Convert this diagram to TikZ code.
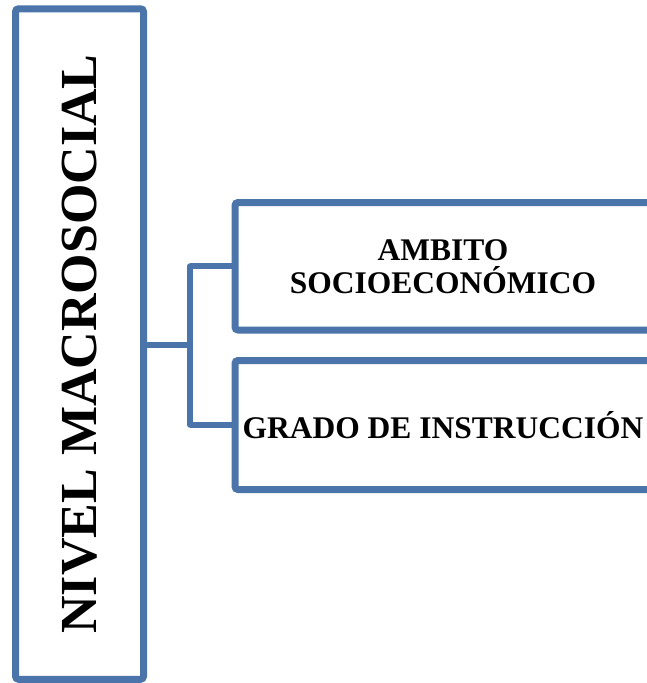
\documentclass[tikz,border=0pt]{standalone}
\usepackage{fontspec}
\setmainfont{Liberation Serif}
\usetikzlibrary{shadows}
\definecolor{boxblue}{HTML}{4A74AA}
\tikzset{
  bluebox/.style={draw=boxblue, line width=7pt, fill=white, rounded corners=3pt,
    drop shadow={opacity=0.35, fill=gray, shadow xshift=2pt, shadow yshift=-3pt}},
  link/.style={draw=boxblue, line width=5.5pt},
  boxtext/.style={font=\bfseries\fontsize{31.5}{33}\selectfont, align=center, inner sep=0pt}
}
\begin{document}
\begin{tikzpicture}[x=1pt,y=-1pt]
\useasboundingbox (0,0) rectangle (647,683);
\clip (0,0) rectangle (647,683);
%\draw[step=50,gray,very thin] (0,0) grid (647,683); %background grid
\node[bluebox, minimum width=128pt, minimum height=670.5pt] (nivel) at (79.5,344) {};
\node[rotate=90, inner sep=0pt, font=\bfseries\fontsize{52}{54}\selectfont] (nivellbl) at (nivel.center) {NIVEL MACROSOCIAL};
\node[bluebox, minimum width=416pt, minimum height=127.5pt] (ambito) at (443,266.25) {};
\node[bluebox, minimum width=416pt, minimum height=129pt] (grado) at (443,425) {};
\node[boxtext] (ambitolbl) at (ambito.center) {AMBITO\\SOCIOECONÓMICO};
\node[boxtext] (gradolbl) at (grado.center) {GRADO DE INSTRUCCIÓN};
\coordinate (split) at (190,345);
\coordinate (up) at (190,266);
\coordinate (down) at (190,425);
\draw[link] (nivel.east |- split) -- (split);
\draw[link, line cap=round] (up) -- (down);
\draw[link] (up) -- (ambito.west |- up);
\draw[link] (down) -- (grado.west |- down);
\end{tikzpicture}
\end{document}
